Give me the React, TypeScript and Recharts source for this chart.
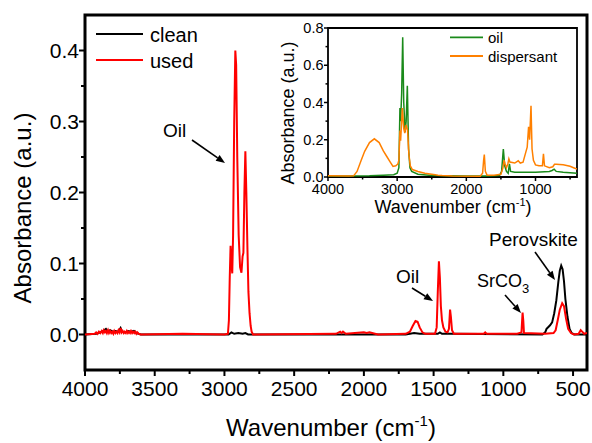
import React from "react";
import { LineChart, Line, XAxis, YAxis, ReferenceArea } from "recharts";

const FONT = "'Liberation Sans', Arial, Helvetica, sans-serif";

// ---------- Main chart data ----------
const cleanWn = [4000, 3920, 3890, 3870, 3850, 3835, 3820, 3800, 3780, 3760, 3745, 3735, 3710, 3690, 3670, 3650, 3630, 3600, 2970, 2950, 2930, 2900, 2870, 2850, 2830, 1700, 1640, 1600, 1470, 1455, 1440, 1380, 720, 700, 690, 675, 665, 650, 635, 620, 605, 595, 585, 575, 565, 555, 540, 525, 510, 490, 400];
const cleanAbs = [0, 0.001, 0.003, 0.005, 0.008, 0.004, 0.006, 0.004, 0.005, 0.004, 0.009, 0.004, 0.003, 0.005, 0.004, 0.005, 0.002, 0, 0, 0.003, 0.001, 0.002, 0.001, 0.002, 0, 0, 0.002, 0.001, 0.001, 0.003, 0.001, 0.001, 0, 0.003, 0.008, 0.011, 0.013, 0.017, 0.03, 0.048, 0.075, 0.09, 0.097, 0.092, 0.075, 0.05, 0.025, 0.008, 0.002, 0, 0];

const usedWn = [4000, 3930, 3920, 3910, 3900, 3890, 3880, 3872, 3865, 3857, 3850, 3843, 3835, 3828, 3820, 3812, 3805, 3797, 3790, 3782, 3775, 3767, 3760, 3752, 3745, 3737, 3730, 3722, 3715, 3707, 3700, 3692, 3685, 3677, 3670, 3662, 3655, 3647, 3640, 3632, 3625, 3615, 3600, 3300, 3000, 2975, 2968, 2962, 2956, 2950, 2944, 2938, 2930, 2922, 2916, 2908, 2898, 2888, 2878, 2870, 2864, 2857, 2850, 2843, 2835, 2828, 2820, 2812, 2805, 2795, 2200, 2170, 2160, 2150, 2130, 2000, 1980, 1960, 1900, 1700, 1670, 1650, 1630, 1615, 1600, 1580, 1560, 1490, 1478, 1470, 1462, 1455, 1448, 1440, 1430, 1415, 1400, 1390, 1382, 1376, 1368, 1355, 1140, 1130, 1120, 900, 870, 862, 857, 852, 700, 640, 625, 610, 595, 578, 565, 550, 535, 515, 495, 460, 445, 435, 420, 400];
const usedAbs = [0, 0.001, 0.003, 0.001, 0.004, 0.002, 0.005, 0.002, 0.006, 0.003, 0.005, 0.002, 0.006, 0.002, 0.005, 0.002, 0.004, 0.001, 0.005, 0.002, 0.004, 0.002, 0.006, 0.003, 0.009, 0.003, 0.005, 0.002, 0.004, 0.002, 0.005, 0.002, 0.004, 0.002, 0.005, 0.002, 0.004, 0.002, 0.004, 0.001, 0.003, 0.001, 0, 0.001, 0, 0.001, 0.02, 0.08, 0.125, 0.1, 0.086, 0.14, 0.3, 0.4, 0.38, 0.25, 0.14, 0.095, 0.087, 0.11, 0.115, 0.2, 0.258, 0.2, 0.12, 0.06, 0.03, 0.012, 0.004, 0, 0.001, 0.004, 0.002, 0.004, 0.001, 0.003, 0.002, 0.003, 0, 0.001, 0.004, 0.012, 0.019, 0.018, 0.01, 0.003, 0.001, 0.001, 0.01, 0.06, 0.103, 0.08, 0.04, 0.02, 0.01, 0.004, 0.003, 0.008, 0.035, 0.025, 0.006, 0.001, 0.001, 0.003, 0.001, 0.001, 0.003, 0.031, 0.02, 0.002, 0.001, 0.002, 0.006, 0.02, 0.035, 0.044, 0.04, 0.022, 0.008, 0.002, 0, 0.001, 0.006, 0.004, 0.001, 0.002];

const mainXTicks = [4000, 3750, 3500, 3250, 3000, 2750, 2500, 2250, 2000, 1750, 1500, 1250, 1000, 750, 500];
const mainYTicks = [0, 0.05, 0.1, 0.15, 0.2, 0.25, 0.3, 0.35, 0.4];

// ---------- Inset data ----------
const oilWn = [4000, 3700, 3400, 3200, 3050, 3000, 2975, 2960, 2950, 2935, 2920, 2905, 2885, 2870, 2853, 2835, 2815, 2790, 2700, 2500, 2000, 1700, 1520, 1490, 1465, 1445, 1420, 1395, 1377, 1360, 1300, 1000, 800, 760, 730, 700, 600, 400];
const oilAbs = [0.005, 0.005, 0.007, 0.01, 0.012, 0.02, 0.05, 0.37, 0.3, 0.45, 0.75, 0.4, 0.24, 0.3, 0.49, 0.15, 0.05, 0.03, 0.015, 0.008, 0.005, 0.005, 0.008, 0.03, 0.15, 0.06, 0.03, 0.02, 0.07, 0.03, 0.025, 0.025, 0.03, 0.035, 0.042, 0.03, 0.025, 0.02];

const dispWn = [4000, 3700, 3630, 3580, 3520, 3470, 3400, 3330, 3260, 3200, 3150, 3100, 3060, 3020, 2990, 2975, 2960, 2950, 2935, 2925, 2905, 2890, 2870, 2850, 2830, 2810, 2780, 2700, 2600, 2450, 2410, 2350, 2200, 1800, 1765, 1750, 1740, 1725, 1700, 1600, 1500, 1470, 1455, 1440, 1420, 1400, 1385, 1370, 1300, 1250, 1220, 1180, 1150, 1120, 1100, 1085, 1065, 1050, 1030, 1000, 950, 900, 885, 870, 800, 750, 725, 700, 600, 500, 450, 400];
const dispAbs = [0.007, 0.005, 0.006, 0.03, 0.09, 0.138, 0.185, 0.205, 0.185, 0.14, 0.11, 0.08, 0.057, 0.06, 0.07, 0.09, 0.25, 0.195, 0.3, 0.37, 0.26, 0.236, 0.28, 0.25, 0.12, 0.06, 0.04, 0.03, 0.02, 0.012, 0.01, 0.008, 0.005, 0.004, 0.02, 0.09, 0.12, 0.03, 0.01, 0.01, 0.015, 0.05, 0.09, 0.07, 0.05, 0.07, 0.097, 0.08, 0.075, 0.087, 0.075, 0.08, 0.12, 0.16, 0.27, 0.2, 0.383, 0.15, 0.09, 0.065, 0.06, 0.06, 0.125, 0.06, 0.05, 0.055, 0.068, 0.068, 0.066, 0.058, 0.05, 0.042];

const insetXTicks = [4000, 3500, 3000, 2500, 2000, 1500, 1000, 500];
const insetYTicks = [0, 0.1, 0.2, 0.3, 0.4, 0.5, 0.6, 0.7, 0.8];

const cleanData = cleanWn.map((wn, i) => ({ wn, v: cleanAbs[i] }));
const usedData = usedWn.map((wn, i) => ({ wn, v: usedAbs[i] }));
const oilData = oilWn.map((wn, i) => ({ wn, v: oilAbs[i] }));
const dispData = dispWn.map((wn, i) => ({ wn, v: dispAbs[i] }));

// ---------- Tick renderers ----------
const MainXTick = (props: any) => {
  const { x, y, payload } = props;
  const val = payload.value as number;
  const major = val % 500 === 0;
  return (
    <g>
      <line x1={x} x2={x} y1={y} y2={y + (major ? 6 : 4)} stroke="#000" strokeWidth={2} />
      {major && (
        <text x={x} y={y + 26} textAnchor="middle" fontSize={21} fontFamily={FONT} fill="#000">
          {val}
        </text>
      )}
    </g>
  );
};

const MainYTick = (props: any) => {
  const { x, y, payload } = props;
  const val = payload.value as number;
  const major = Math.round(val * 100) % 10 === 0;
  return (
    <g>
      <line x1={x - (major ? 6 : 4)} x2={x} y1={y} y2={y} stroke="#000" strokeWidth={2} />
      {major && (
        <text x={x - 6} y={y + 7.5} textAnchor="end" fontSize={21} fontFamily={FONT} fill="#000">
          {val.toFixed(1)}
        </text>
      )}
    </g>
  );
};

const InsetXTick = (props: any) => {
  const { x, y, payload } = props;
  const val = payload.value as number;
  const major = val % 1000 === 0;
  return (
    <g>
      <line x1={x} x2={x} y1={y} y2={y + (major ? 4 : 2.5)} stroke="#000" strokeWidth={1.5} />
      {major && (
        <text x={x} y={y + 16.5} textAnchor="middle" fontSize={14.5} fontFamily={FONT} fill="#000">
          {val}
        </text>
      )}
    </g>
  );
};

const InsetYTick = (props: any) => {
  const { x, y, payload } = props;
  const val = payload.value as number;
  const major = Math.round(val * 10) % 2 === 0;
  return (
    <g>
      <line x1={x - (major ? 4 : 2.5)} x2={x} y1={y} y2={y} stroke="#000" strokeWidth={1.5} />
      {major && (
        <text x={x - 4.5} y={y + 5} textAnchor="end" fontSize={14.5} fontFamily={FONT} fill="#000">
          {val.toFixed(1)}
        </text>
      )}
    </g>
  );
};

// ---------- Overlay helpers ----------
const Arrow = ({ x1, y1, x2, y2 }: { x1: number; y1: number; x2: number; y2: number }) => {
  const dx = x2 - x1;
  const dy = y2 - y1;
  const len = Math.sqrt(dx * dx + dy * dy);
  const ux = dx / len;
  const uy = dy / len;
  const hl = 9;
  const hw = 3.5;
  const bx = x2 - ux * hl;
  const by = y2 - uy * hl;
  const p1 = `${x2},${y2}`;
  const p2 = `${bx - uy * hw},${by + ux * hw}`;
  const p3 = `${bx + uy * hw},${by - ux * hw}`;
  return (
    <g>
      <line x1={x1} y1={y1} x2={bx} y2={by} stroke="#000" strokeWidth={1.6} />
      <polygon points={`${p1} ${p2} ${p3}`} fill="#000" />
    </g>
  );
};

export default function App() {
  return (
    <div style={{ position: "absolute", left: 0, top: 0, width: 592, height: 443, background: "#fff" }}>
      <div style={{ position: "absolute", left: 0, top: 0 }}>
        <LineChart width={592} height={443} margin={{ top: 15, right: 5, bottom: 0, left: 0 }}>
          <XAxis
            type="number"
            dataKey="wn"
            domain={[400, 4000]}
            reversed
            allowDataOverflow
            ticks={mainXTicks}
            interval={0}
            tick={<MainXTick />}
            tickLine={false}
            axisLine={false}
            tickSize={0}
            tickMargin={0}
            height={73}
          />
          <YAxis
            type="number"
            domain={[-0.05, 0.45]}
            allowDataOverflow
            ticks={mainYTicks}
            interval={0}
            tick={<MainYTick />}
            tickLine={false}
            axisLine={false}
            tickSize={0}
            tickMargin={0}
            width={85}
          />
          <Line data={cleanData} dataKey="v" type="linear" stroke="#000000" strokeWidth={2} dot={false} activeDot={false} isAnimationActive={false} />
          <Line data={usedData} dataKey="v" type="linear" stroke="#ff0000" strokeWidth={2} dot={false} activeDot={false} isAnimationActive={false} />
          <ReferenceArea x1={4000} x2={400} y1={-0.05} y2={0.45} fill="none" stroke="#000" strokeWidth={3} ifOverflow="visible" />
        </LineChart>
      </div>

      <div style={{ position: "absolute", left: 270, top: 10 }}>
        <LineChart width={315} height={220} margin={{ top: 18, right: 8, bottom: 0, left: 0 }}>
          <XAxis
            type="number"
            dataKey="wn"
            domain={[400, 4000]}
            reversed
            allowDataOverflow
            ticks={insetXTicks}
            interval={0}
            tick={<InsetXTick />}
            tickLine={false}
            axisLine={false}
            tickSize={0}
            tickMargin={0}
            height={53}
          />
          <YAxis
            type="number"
            domain={[0, 0.8]}
            allowDataOverflow
            ticks={insetYTicks}
            interval={0}
            tick={<InsetYTick />}
            tickLine={false}
            axisLine={false}
            tickSize={0}
            tickMargin={0}
            width={58}
          />
          <Line data={oilData} dataKey="v" type="linear" stroke="#1a8a1a" strokeWidth={1.5} dot={false} activeDot={false} isAnimationActive={false} />
          <Line data={dispData} dataKey="v" type="linear" stroke="#ff8000" strokeWidth={1.5} dot={false} activeDot={false} isAnimationActive={false} />
          <ReferenceArea x1={4000} x2={400} y1={0} y2={0.8} fill="none" stroke="#000" strokeWidth={1.8} ifOverflow="visible" />
        </LineChart>
      </div>

      <svg width={592} height={443} style={{ position: "absolute", left: 0, top: 0, pointerEvents: "none" }}>
        {/* main legend */}
        <line x1={96} y1={34} x2={143} y2={34} stroke="#000" strokeWidth={2} />
        <text x={150} y={41.5} fontSize={20} fontFamily={FONT} fill="#000">clean</text>
        <line x1={96} y1={60} x2={143} y2={60} stroke="#ff0000" strokeWidth={2} />
        <text x={150} y={67.5} fontSize={20} fontFamily={FONT} fill="#000">used</text>

        {/* main axis titles */}
        <text x={23} y={208} dy="0.35em" transform="rotate(-90 23 208)" textAnchor="middle" fontSize={24} fontFamily={FONT} fill="#000">
          Absorbance (a.u.)
        </text>
        <text x={331} y={436} textAnchor="middle" fontSize={24} fontFamily={FONT} fill="#000">
          Wavenumber (cm<tspan dy={-10} fontSize={15}>-1</tspan><tspan dy={10}>)</tspan>
        </text>

        {/* annotations */}
        <text x={163} y={137} fontSize={19} fontFamily={FONT} fill="#000">Oil</text>
        <Arrow x1={192} y1={140} x2={225} y2={163} />
        <text x={396} y={283} fontSize={19} fontFamily={FONT} fill="#000">Oil</text>
        <Arrow x1={412} y1={288} x2={433} y2={301} />
        <text x={477} y={287} fontSize={18} fontFamily={FONT} fill="#000">
          SrCO<tspan dy={6} fontSize={13}>3</tspan>
        </text>
        <Arrow x1={505} y1={295} x2={521} y2={313} />
        <text x={489} y={246} fontSize={19} fontFamily={FONT} fill="#000">Perovskite</text>
        <Arrow x1={535} y1={252} x2={555} y2={280} />

        {/* inset legend */}
        <line x1={450} y1={37.3} x2={483} y2={37.3} stroke="#1a8a1a" strokeWidth={1.8} />
        <text x={488} y={42.5} fontSize={15} fontFamily={FONT} fill="#000">oil</text>
        <line x1={450} y1={56} x2={483} y2={56} stroke="#ff8000" strokeWidth={1.8} />
        <text x={488} y={61.5} fontSize={15} fontFamily={FONT} fill="#000">dispersant</text>

        {/* inset axis titles */}
        <text x={288} y={113} dy="0.35em" transform="rotate(-90 288 113)" textAnchor="middle" fontSize={18} fontFamily={FONT} fill="#000">
          Absorbance (a.u.)
        </text>
        <text x={453} y={213} textAnchor="middle" fontSize={18} fontFamily={FONT} fill="#000">
          Wavenumber (cm<tspan dy={-7} fontSize={11}>-1</tspan><tspan dy={7}>)</tspan>
        </text>
      </svg>
    </div>
  );
}
